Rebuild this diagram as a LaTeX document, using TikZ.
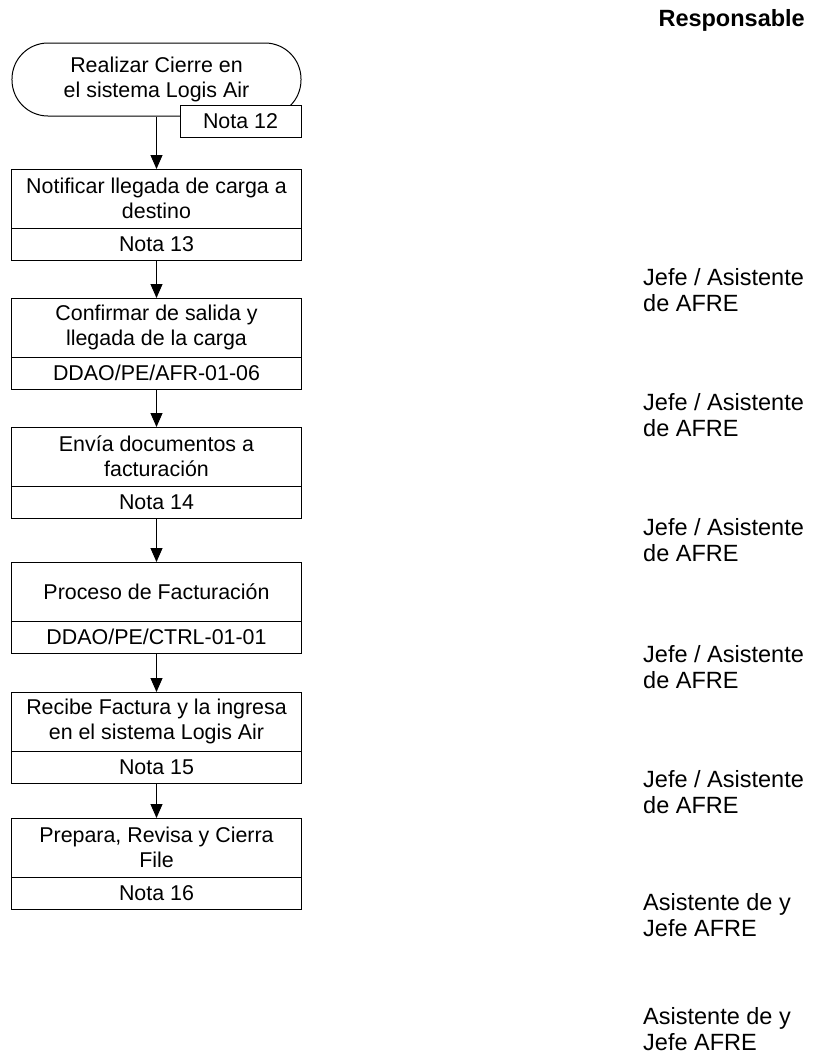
\documentclass[tikz,border=0pt]{standalone}
\usepackage{fontspec}
\setmainfont{Liberation Sans}
\usetikzlibrary{positioning}
\usetikzlibrary{arrows.meta}

\newcommand{\flowfont}{\fontsize{21.4bp}{24.6bp}\selectfont}
\newcommand{\respfont}{\fontsize{23.5bp}{25.5bp}\selectfont}

\begin{document}
\begin{tikzpicture}[x=1bp,y=-1bp,node distance=0pt]
  \tikzstyle{terminal}=[rectangle,draw=black,line width=1bp,rounded corners=36bp,minimum width=289bp,minimum height=73bp,align=center,font=\flowfont,inner sep=0pt]
  \tikzstyle{task}=[rectangle,draw=black,line width=1bp,fill=white,minimum width=289bp,minimum height=59bp,align=center,font=\flowfont,inner sep=0pt,outer sep=0pt]
  \tikzstyle{ref}=[rectangle,draw=black,line width=1bp,fill=white,minimum width=289bp,minimum height=32bp,font=\flowfont,inner sep=0pt,outer sep=0pt]
  \tikzstyle{resp}=[anchor=west,align=left,font=\respfont,inner sep=0pt]
  \tikzstyle{flow}=[draw=black,line width=1bp,-{Triangle[length=14bp,width=12bp]}]

  \useasboundingbox (0,0) rectangle (815,1064);

  % flow chart
  \node[terminal] at (156.5,79.5) (T) {Realizar Cierre en\\el sistema Logis Air};
  \node[ref,minimum width=121bp] at (240.5,121) (N12) {Nota 12};

  \node[task] at (156.5,198.5) (B1) {Notificar llegada de carga a\\destino};
  \node[ref]  (N13) [below=of B1] {Nota 13};

  \node[task] at (156.5,327.5) (B2) {Confirmar de salida y\\llegada de la carga};
  \node[ref]  (N14) [below=of B2] {DDAO/PE/AFR-01-06};

  \node[task] at (156.5,456.5) (B3) {Envía documentos a\\facturación};
  \node[ref]  (N15) [below=of B3] {Nota 14};

  \node[task] at (156.5,591.5) (B4) {Proceso de Facturación};
  \node[ref]  (N16) [below=of B4] {DDAO/PE/CTRL-01-01};

  \node[task] at (156.5,721.5) (B5) {Recibe Factura y la ingresa\\en el sistema Logis Air};
  \node[ref]  (N17) [below=of B5] {Nota 15};

  \node[task] at (156.5,847.5) (B6) {Prepara, Revisa y Cierra\\File};
  \node[ref]  (N18) [below=of B6] {Nota 16};

  \draw[flow] (T.south) -- (B1.north);
  \draw[flow] (N13.south) -- (B2.north);
  \draw[flow] (N14.south) -- (B3.north);
  \draw[flow] (N15.south) -- (B4.north);
  \draw[flow] (N16.south) -- (B5.north);
  \draw[flow] (N17.south) -- (B6.north);

  % responsables
  \node[anchor=base east,font=\respfont\bfseries,inner sep=0pt] at (805,26) (RH) {Responsable};
  \node[resp] at (643,290)  (R1) {Jefe / Asistente\\de AFRE};
  \node[resp] at (643,415)  (R2) {Jefe / Asistente\\de AFRE};
  \node[resp] at (643,540)  (R3) {Jefe / Asistente\\de AFRE};
  \node[resp] at (643,667)  (R4) {Jefe / Asistente\\de AFRE};
  \node[resp] at (643,792)  (R5) {Jefe / Asistente\\de AFRE};
  \node[resp] at (643,915)  (R6) {Asistente de y\\Jefe AFRE};
  \node[resp] at (643,1029) (R7) {Asistente de y\\Jefe AFRE};
\end{tikzpicture}
\end{document}
